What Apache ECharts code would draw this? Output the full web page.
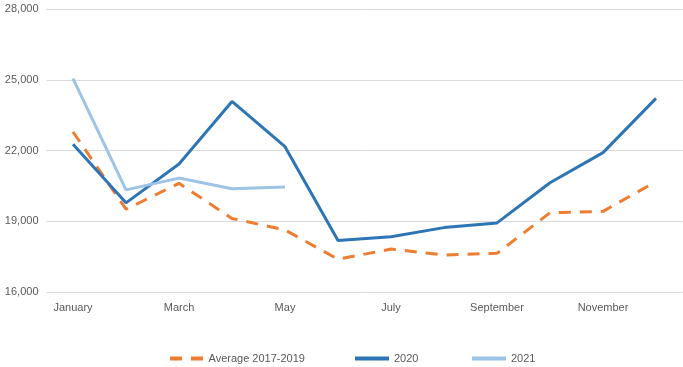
<!DOCTYPE html>
<html>
<head>
<meta charset="utf-8">
<script src="https://cdn.jsdelivr.net/npm/echarts@6/dist/echarts.min.js"></script>
<style>html,body{margin:0;padding:0;background:#fff}#c{width:683px;height:367px}</style>
</head>
<body>
<div id="c"></div>
<script>
var months = ['January','February','March','April','May','June','July','August','September','October','November','December'];
var avg20172019 = [22790, 19510, 20610, 19120, 18630, 17390, 17820, 17570, 17640, 19360, 19420, 20680];
var y2020 = [22270, 19780, 21430, 24080, 22160, 18180, 18340, 18730, 18930, 20630, 21910, 24210];
var y2021 = [25050, 20330, 20830, 20380, 20450];
var yTicks = {min: 16000, max: 28000, interval: 3000};

var chart = echarts.init(document.getElementById('c'), null, {renderer: 'canvas'});
var font = 'Liberation Sans';
function leg(name, left, icon) {
  return {
    top: 348, left: left, padding: [5, 0], itemWidth: 34, itemHeight: 4, itemGap: 0,
    textStyle: {color: '#595959', fontSize: 11, fontFamily: font},
    data: [{name: name, icon: icon || 'path://M0,0 L34,0 L34,4 L0,4 Z'}]
  };
}
chart.setOption({
  animation: false,
  grid: {left: 46.5, right: 0.5, top: 9, bottom: 75},
  legend: [
    leg('Average 2017-2019', 170, 'path://M0,0 L12,0 L12,4 L0,4 Z M21,0 L33,0 L33,4 L21,4 Z'),
    leg('2020', 355),
    leg('2021', 472)
  ],
  xAxis: {
    type: 'category', data: months, boundaryGap: true,
    axisLine: {show: false}, axisTick: {show: false},
    axisLabel: {interval: 1, color: '#595959', fontSize: 11, fontFamily: font, margin: 10}
  },
  yAxis: {
    type: 'value', min: yTicks.min, max: yTicks.max, interval: yTicks.interval,
    axisLine: {show: false}, axisTick: {show: false},
    splitLine: {lineStyle: {color: '#d9d9d9', width: 1}},
    axisLabel: {color: '#595959', fontSize: 11, fontFamily: font, margin: 8,
      formatter: function(v){ return v.toLocaleString('en-US'); }}
  },
  series: [
    {name: 'Average 2017-2019', type: 'line', data: avg20172019, symbol: 'none',
     itemStyle: {color: '#ED7D31'},
     lineStyle: {color: '#ED7D31', width: 3, type: [12, 9], cap: 'butt'}},
    {name: '2020', type: 'line', data: y2020, symbol: 'none',
     itemStyle: {color: '#2E75B6'},
     lineStyle: {color: '#2E75B6', width: 3}},
    {name: '2021', type: 'line', data: y2021, symbol: 'none',
     itemStyle: {color: '#9DC3E6'},
     lineStyle: {color: '#9DC3E6', width: 3}}
  ]
});
</script>
</body>
</html>
